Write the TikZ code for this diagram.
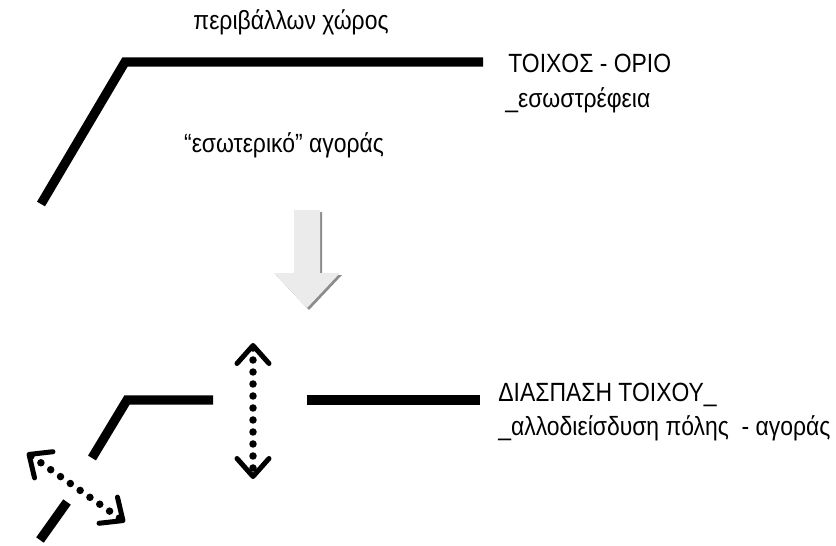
\documentclass[tikz,border=0pt]{standalone}
\usepackage{fontspec}
\setmainfont{Liberation Sans}[FakeStretch=0.87]
\usepackage{tikz}
\usetikzlibrary{arrows.meta, positioning, calc}
\definecolor{wallcol}{HTML}{000000}
\definecolor{arrowfill}{HTML}{EBEBEB}
\definecolor{arrowshade}{HTML}{8C8C8C}

\begin{document}
\begin{tikzpicture}[
  x=0.02cm, y=-0.02cm,
  font=\fontsize{15}{18}\selectfont,
  >={Straight Barb[length=0.36cm, width=0.64cm, line width=0.1cm, round]},
  wall/.style={draw=wallcol, line width=0.185cm, line cap=butt, line join=miter},
  label/.style={inner sep=0pt, anchor=base west},
  midlabel/.style={inner sep=0pt, anchor=base},
  move/.style={<->, line width=0.15cm, line cap=round, dash pattern=on 0pt off 0.24cm}
]
  \useasboundingbox (0,0) rectangle (836,545);

  % upper wall
  \coordinate (w1) at (41,204);
  \coordinate (w2) at (125,62);
  \coordinate (w3) at (483,62);
  \draw[wall] (w1) -- (w2) -- (w3);

  \node[midlabel] (outside) at (291,29) {περιβάλλων χώρος};
  \node[midlabel] (inside)  at (284,152) {“εσωτερικό” αγοράς};
  \node[label] (wall)   at (508,72)  {ΤΟΙΧΟΣ - ΟΡΙΟ};
  \node[label] (inward) at (505,107) {\_εσωστρέφεια};

  % transition arrow
  \fill[arrowshade] ($(294,210)+(2,2)$) -- ++(26,0) -- ++(0,63) -- ++(20,0) -- ++(-33,35) -- ++(-33,-35) -- ++(20,0) -- cycle;
  \fill[arrowfill] (294,210) coordinate (t1) -- ++(26,0) -- ++(0,63) -- ++(20,0) -- ++(-33,35) coordinate (t2) -- ++(-33,-35) -- ++(20,0) -- cycle;

  % broken wall
  \coordinate (b1) at (40,540);
  \coordinate (b2) at (67,502);
  \coordinate (b3) at (92,458);
  \coordinate (b4) at (127,400);
  \coordinate (b5) at (213,400);
  \coordinate (b6) at (307,400);
  \coordinate (b7) at (480,400);
  \draw[wall] (b1) -- (b2);
  \draw[wall] (b3) -- (b4) -- (b5);
  \draw[wall] (b6) -- (b7);

  \coordinate (v1) at (253,343);
  \coordinate (v2) at (253,479);
  \draw[move] (v1) -- (v2);
  \coordinate (d1) at (27,453);
  \coordinate (d2) at (125,522);
  \draw[move] (d1) -- (d2);

  \node[label] (break)  at (498,401) {ΔΙΑΣΠΑΣΗ ΤΟΙΧΟΥ\_};
  \node[label] (infilt) at (498,435) {\_αλλοδιείσδυση πόλης\ \ - αγοράς};
\end{tikzpicture}
\end{document}
